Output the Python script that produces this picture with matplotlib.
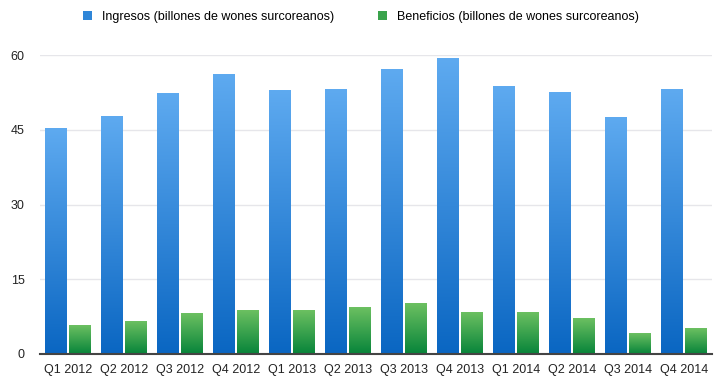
import matplotlib
matplotlib.use("Agg")
import matplotlib.pyplot as plt
import numpy as np
from matplotlib.colors import LinearSegmentedColormap
from matplotlib.patches import Patch

plt.rcParams['font.family'] = ['Liberation Sans', 'DejaVu Sans']

quarters = ["Q1 2012", "Q2 2012", "Q3 2012", "Q4 2012", "Q1 2013", "Q2 2013",
            "Q3 2013", "Q4 2013", "Q1 2014", "Q2 2014", "Q3 2014", "Q4 2014"]
ingresos = [45.2, 47.6, 52.2, 56.1, 52.9, 53.0, 57.0, 59.2, 53.6, 52.4, 47.5, 53.0]
beneficios = [5.8, 6.6, 8.1, 8.8, 8.8, 9.4, 10.1, 8.3, 8.4, 7.2, 4.1, 5.2]
yticks = [0, 15, 30, 45, 60]

blue_map = LinearSegmentedColormap.from_list("blue", ["#0a66c2", "#5eaaf0"])
green_map = LinearSegmentedColormap.from_list("green", ["#07843a", "#6cc061"])

fig = plt.figure(figsize=(7.22, 3.8), dpi=100)
ax = fig.add_axes([40 / 722, 26 / 380, 672 / 722, 299 / 380])

x = np.arange(len(quarters))
w = 0.39
bars_i = ax.bar(x - w / 2 - 0.02, ingresos, w, color="none", zorder=3)
bars_b = ax.bar(x + w / 2 + 0.02, beneficios, w, color="none", zorder=3)

# vertical gradient fill for every bar
grad = np.linspace(0, 1, 256).reshape(-1, 1)
for bars, cmap in ((bars_i, blue_map), (bars_b, green_map)):
    for b in bars:
        x0, y0 = b.get_x(), b.get_y()
        ax.imshow(grad, cmap=cmap, origin="lower", aspect="auto",
                  extent=(x0, x0 + b.get_width(), y0, y0 + b.get_height()),
                  zorder=3, interpolation="bilinear")

ax.set_xlim(-0.5, len(quarters) - 0.5)
ax.set_ylim(0, 60)
ax.set_yticks(yticks)
ax.set_xticks(x)
ax.set_xticklabels(quarters)
ax.tick_params(length=0, labelsize=9, colors="#222222")
ax.tick_params(axis="y", pad=11)
ax.tick_params(axis="x", pad=7)
ax.grid(axis="y", color="#e6e6ea", linewidth=1, zorder=0)
for s in ("top", "right", "left"):
    ax.spines[s].set_visible(False)
ax.spines["bottom"].set_color("#444444")
ax.spines["bottom"].set_linewidth(1.5)
ax.spines["bottom"].set_zorder(4)

handles = [Patch(facecolor="#2f86d8", edgecolor="none"),
           Patch(facecolor="#3aa34c", edgecolor="none")]
fig.legend(handles, ["Ingresos (billones de wones surcoreanos)",
                     "Beneficios (billones de wones surcoreanos)"],
           loc="center", bbox_to_anchor=(0.5, 1 - 17 / 380), ncol=2,
           frameon=False, fontsize=9, handlelength=0.75, handleheight=0.75,
           handletextpad=0.8, columnspacing=3.5)

fig.savefig("out.png", dpi=100)
